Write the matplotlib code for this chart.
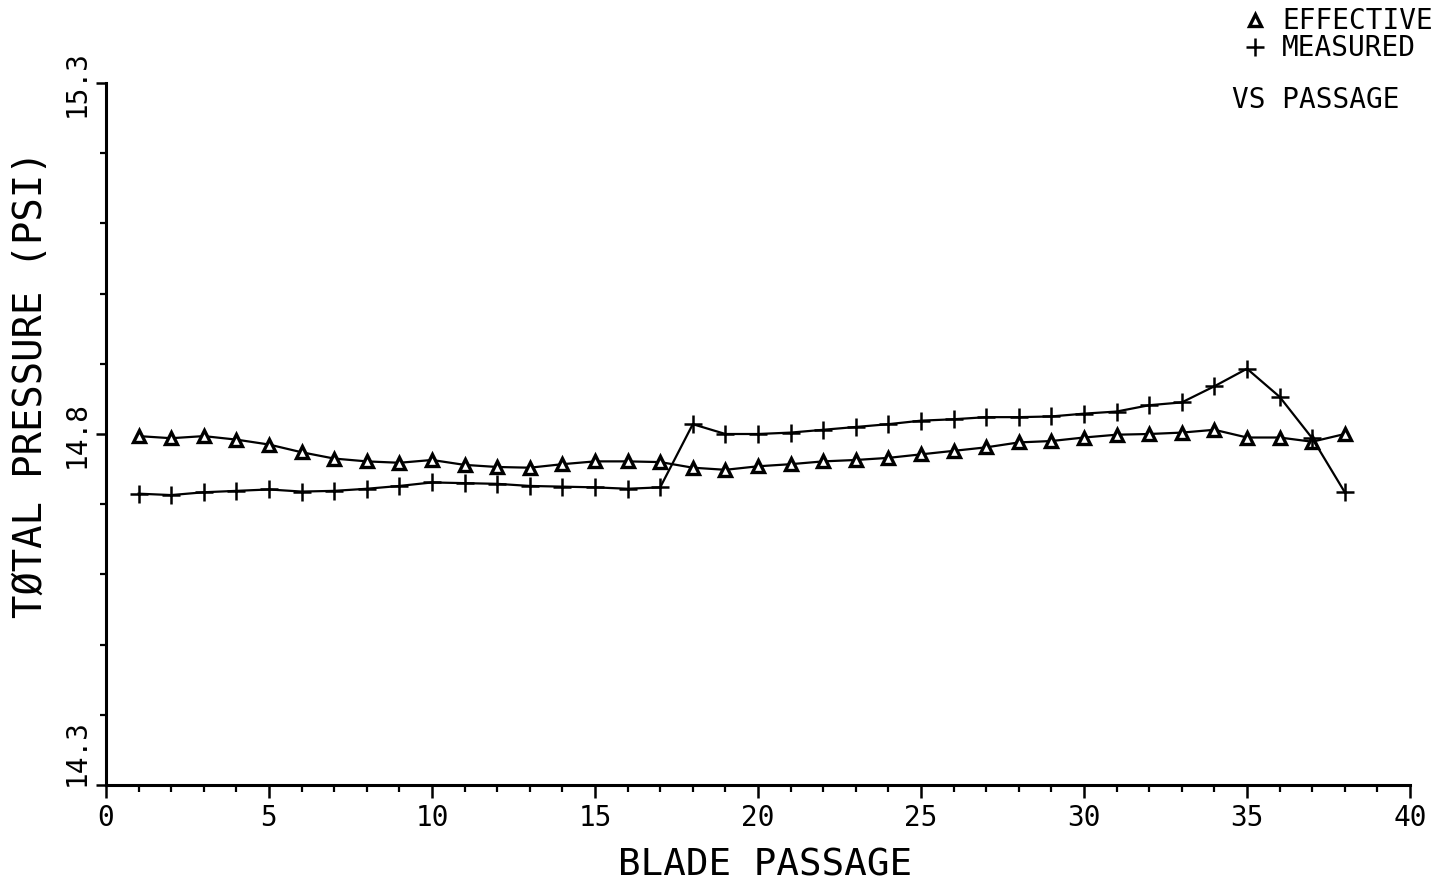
import numpy as np
import matplotlib
matplotlib.use("Agg")
import matplotlib.pyplot as plt
from matplotlib.lines import Line2D
from matplotlib.ticker import MultipleLocator

plt.rcParams['font.family'] = ['DejaVu Sans Mono', 'DejaVu Sans']

# blade passage number and total pressure (psi)
passage = np.arange(1, 39)
effective = [14.797, 14.794, 14.797, 14.792, 14.785, 14.774, 14.765, 14.761,
             14.759, 14.763, 14.756, 14.753, 14.752, 14.757, 14.761, 14.761,
             14.760, 14.752, 14.749, 14.754, 14.757, 14.761, 14.763, 14.766,
             14.771, 14.776, 14.781, 14.788, 14.790, 14.795, 14.799, 14.800,
             14.802, 14.806, 14.795, 14.795, 14.789, 14.800]
measured = [14.715, 14.713, 14.717, 14.719, 14.721, 14.718, 14.719, 14.722,
            14.726, 14.731, 14.730, 14.729, 14.726, 14.725, 14.724, 14.722,
            14.724, 14.814, 14.800, 14.800, 14.802, 14.806, 14.810, 14.814,
            14.819, 14.821, 14.824, 14.824, 14.825, 14.829, 14.832, 14.841,
            14.845, 14.868, 14.893, 14.853, 14.794, 14.717]

xticks = [0, 5, 10, 15, 20, 25, 30, 35, 40]
yticks = [14.3, 14.8, 15.3]
ytick_labels = ["14.3", "14.8", "15.3"]

fig = plt.figure(figsize=(14.41, 8.87), dpi=100)
ax = fig.add_axes([106 / 1441, 1 - 786 / 887, 1304 / 1441, 702 / 887])

tri = dict(marker='^', markersize=9, markerfacecolor='white',
           markeredgecolor='black', markeredgewidth=2.4)
plus = dict(marker='+', markersize=13, markeredgewidth=1.8, color='black')

ax.plot(passage, effective, color='black', lw=1.6, **tri)
ax.plot(passage, measured, lw=1.6, **plus)

ax.set_xlim(0, 40)
ax.set_ylim(14.3, 15.3)
ax.set_xticks(xticks)
ax.set_xticklabels([str(t) for t in xticks])
ax.xaxis.set_minor_locator(MultipleLocator(1))
ax.set_yticks(yticks)
ax.set_yticklabels(ytick_labels, rotation=90)
ax.yaxis.set_minor_locator(MultipleLocator(0.1))

for s in ['top', 'right']:
    ax.spines[s].set_visible(False)
for s in ['left', 'bottom']:
    ax.spines[s].set_linewidth(2.2)

ax.tick_params(axis='x', which='major', length=9, width=1.8, labelsize=20, pad=4)
ax.tick_params(axis='x', which='minor', length=5, width=1.6)
ax.tick_params(axis='y', which='major', length=7, width=1.8, labelsize=20, pad=4)
ax.tick_params(axis='y', which='minor', length=4, width=1.6)

for t in ax.yaxis.get_major_ticks():
    t.label1.set_va('center')
ax.yaxis.get_major_ticks()[0].label1.set_va('bottom')

fig.text(765 / 1441, 1 - 866 / 887, "BLADE PASSAGE", fontsize=27,
         ha='center', va='center')
fig.text(31 / 1441, 1 - 384 / 887, "TØTAL PRESSURE (PSI)", fontsize=28,
         ha='center', va='center', rotation=90)

# legend and subtitle, upper right corner
fig.add_artist(Line2D([1255 / 1441], [1 - 21 / 887], transform=fig.transFigure,
                      color='black', **tri))
fig.add_artist(Line2D([1255 / 1441], [1 - 48 / 887], transform=fig.transFigure,
                      **plus))
fig.text(1282 / 1441, 1 - 21 / 887, "EFFECTIVE", fontsize=20, va='center')
fig.text(1282 / 1441, 1 - 48 / 887, "MEASURED", fontsize=20, va='center')
fig.text(1232 / 1441, 1 - 100 / 887, "VS PASSAGE", fontsize=20, va='center')

fig.savefig("out.png", dpi=100)
